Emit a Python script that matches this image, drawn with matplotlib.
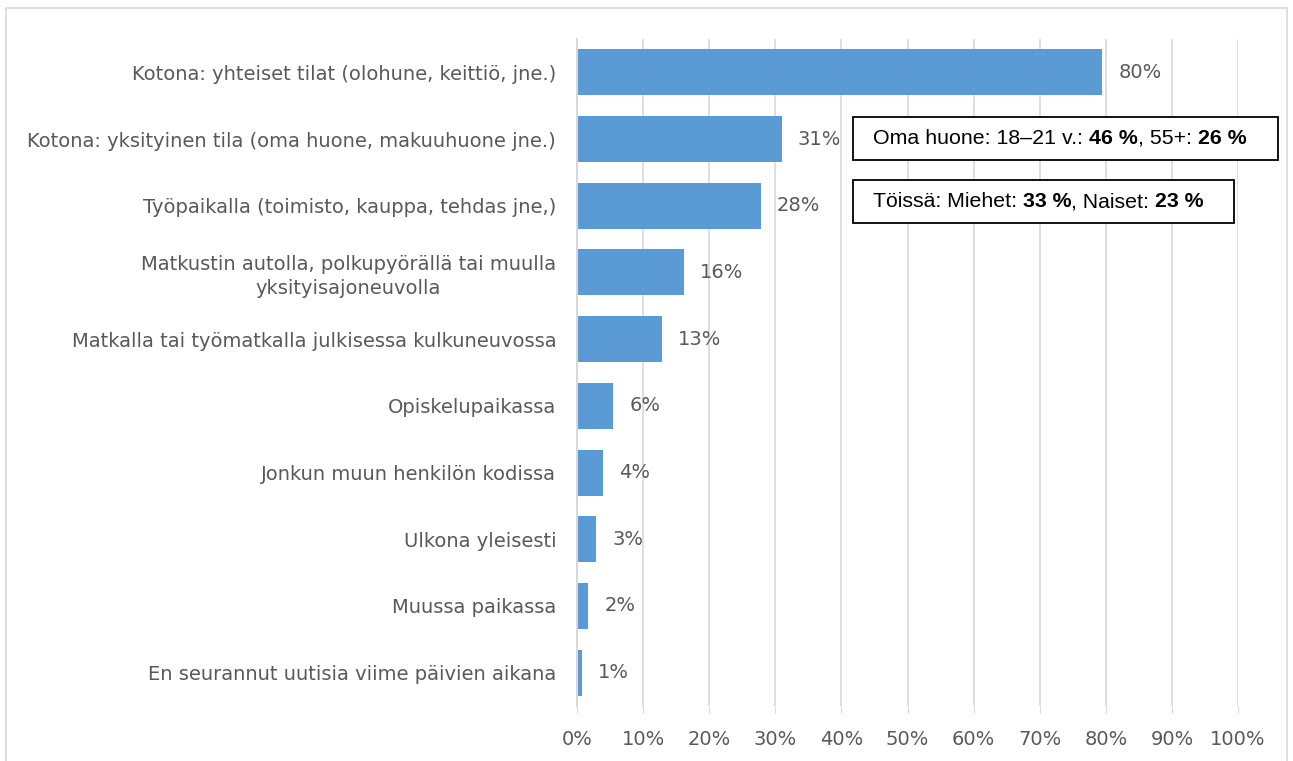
import matplotlib.pyplot as plt
from matplotlib.patches import Rectangle
from matplotlib.offsetbox import TextArea, HPacker, AnchoredOffsetbox

# data
categories = [
    "Kotona: yhteiset tilat (olohune, keittiö, jne.)",
    "Kotona: yksityinen tila (oma huone, makuuhuone jne.)",
    "Työpaikalla (toimisto, kauppa, tehdas jne,)",
    "Matkustin autolla, polkupyörällä tai muulla\nyksityisajoneuvolla",
    "Matkalla tai työmatkalla julkisessa kulkuneuvossa",
    "Opiskelupaikassa",
    "Jonkun muun henkilön kodissa",
    "Ulkona yleisesti",
    "Muussa paikassa",
    "En seurannut uutisia viime päivien aikana",
]
values = [79.5, 31.0, 27.8, 16.2, 12.9, 5.5, 3.9, 2.9, 1.7, 0.8]
value_labels = ["80%", "31%", "28%", "16%", "13%", "6%", "4%", "3%", "2%", "1%"]
xticks = list(range(0, 101, 10))

note1 = [("Oma huone: 18–21 v.: ", "normal"), ("46 %", "bold"), (", 55+: ", "normal"), ("26 %", "bold")]
note2 = [("Töissä: Miehet: ", "normal"), ("33 %", "bold"), (", Naiset: ", "normal"), ("23 %", "bold")]

BAR = "#5b9bd5"
TXT = "#595959"
GRID = "#d9d9d9"
W, H = 1293, 761

fig = plt.figure(figsize=(W / 100, H / 100), dpi=100)
ax = fig.add_axes([577 / W, 1 - 706 / H, 661 / W, 667 / H])

y = list(range(len(categories)))
ax.barh(y, values, height=0.69, color=BAR, zorder=3)
for yi, v, lab in zip(y, values, value_labels):
    ax.annotate(lab, (v, yi), xytext=(11.5, 0), textcoords="offset points",
                va="center", ha="left", fontsize=14, color=TXT)

ax.set_xlim(0, 100)
ax.set_ylim(len(categories) - 0.5, -0.5)
ax.set_xticks(xticks)
ax.set_xticklabels([f"{t}%" for t in xticks], fontsize=14, color=TXT)
ax.set_yticks(y)
ax.set_yticklabels(categories, fontsize=14, color=TXT, linespacing=1.3)
for t in ax.get_yticklabels():
    t.set_multialignment("center")
ax.tick_params(axis="y", length=0, pad=15)
ax.tick_params(axis="x", length=5, color=GRID, pad=12)
ax.grid(axis="x", color=GRID, linewidth=1.2, zorder=0)
for s in ["top", "right", "bottom"]:
    ax.spines[s].set_visible(False)
ax.spines["left"].set_color(GRID)
ax.spines["left"].set_linewidth(1.5)
ax.spines["left"].set_zorder(4)


def note_box(parts, x0, y0, x1, y1, size):
    fig.add_artist(Rectangle((x0 / W, 1 - y1 / H), (x1 - x0) / W, (y1 - y0) / H,
                             transform=fig.transFigure, facecolor="white",
                             edgecolor="black", linewidth=1.3, zorder=5))
    areas = [TextArea(t, textprops=dict(fontsize=size, fontweight=w, color="black",
                                         family="Liberation Sans")) for t, w in parts]
    pack = HPacker(children=areas, align="baseline", pad=0, sep=0)
    box = AnchoredOffsetbox(loc="center left", child=pack, pad=0, borderpad=0,
                            frameon=False, bbox_to_anchor=(((x0 + 20) / W), 1 - (y0 + y1) / 2 / H),
                            bbox_transform=fig.transFigure)
    box.set_zorder(6)
    fig.add_artist(box)


note_box(note1, 853, 117, 1278, 160, 15.4)
note_box(note2, 853, 180, 1234, 223, 15.3)

fig.add_artist(Rectangle((6 / W, -0.05), 1281 / W, 1.05 - 8 / H,
                         transform=fig.transFigure, fill=False,
                         edgecolor="#d9d9d9", linewidth=1.2))

fig.savefig("out.png", dpi=100)
